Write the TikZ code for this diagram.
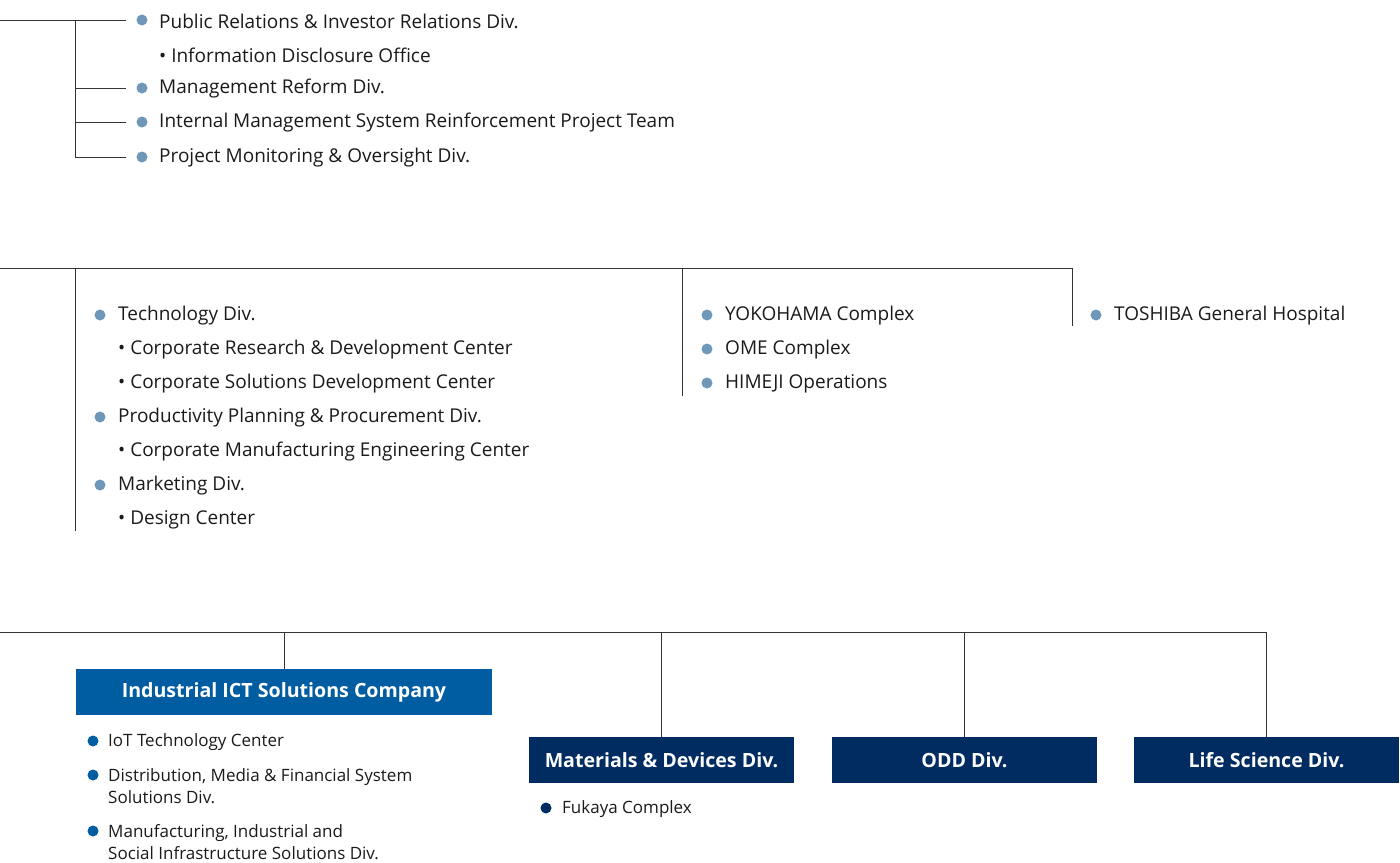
\documentclass[tikz,border=0pt]{standalone}
\usepackage{fontspec}
\setmainfont{Open Sans}
\definecolor{dotc}{HTML}{6F98B8}
\definecolor{ictblue}{HTML}{005DA2}
\definecolor{navy}{HTML}{002C62}
\definecolor{lnc}{HTML}{333333}
\definecolor{txt}{HTML}{1A1A1A}
\begin{document}
\begin{tikzpicture}[x=1pt,y=-1pt,
  conn/.style={draw=lnc,line width=1pt},
  item/.style={anchor=west,inner sep=0pt,text=txt,font=\fontsize{19}{22}\selectfont},
  smallitem/.style={anchor=west,inner sep=0pt,text=txt,align=left,font=\fontsize{17}{22}\selectfont},
  bdot/.style={circle,fill=dotc,minimum size=11pt,inner sep=0pt},
  ictdot/.style={circle,fill=ictblue,minimum size=11pt,inner sep=0pt},
  navydot/.style={circle,fill=navy,minimum size=11pt,inner sep=0pt},
  ictbox/.style={fill=ictblue,text=white,inner sep=0pt,font=\bfseries\fontsize{19.6}{22}\selectfont},
  navybox/.style={fill=navy,text=white,inner sep=0pt,font=\bfseries\fontsize{19.6}{22}\selectfont},
]
\useasboundingbox (0,0) rectangle (1400,862);

% ---------- top group ----------
\node[bdot] (a1d) at (142,20) {};
\node[item] (a1) at (159,21) {Public Relations \& Investor Relations Div.};
\node[item] (a1s) at (159,55) {\textbullet\ Information Disclosure Office};
\node[bdot] (a2d) at (142,88) {};
\node[item] (a2) at (159,89) {Management Reform Div.};
\node[bdot] (a3d) at (142,122) {};
\node[item] (a3) at (159,123) {Internal Management System Reinforcement Project Team};
\node[bdot] (a4d) at (142,157) {};
\node[item] (a4) at (159,158) {Project Monitoring \& Oversight Div.};

\coordinate (aL) at (0,20);
\coordinate (aV) at (75,20);
\draw[conn] (aL) -- ([xshift=-10pt]a1d.west);
\draw[conn] (aV) |- ([xshift=-10pt]a4d.west);
\draw[conn] (aV |- a2d) -- ([xshift=-10pt]a2d.west);
\draw[conn] (aV |- a3d) -- ([xshift=-10pt]a3d.west);

% ---------- middle group ----------
\coordinate (bL) at (0,268);
\coordinate (bR) at (1072,268);
\coordinate (bV1) at (75,268);
\coordinate (bV2) at (682,268);
\coordinate (bE1) at (75,531);
\coordinate (bE2) at (682,396);
\coordinate (bE3) at (1072,326);
\draw[conn] (bL) -- (bR);
\draw[conn] (bV1) -- (bE1);
\draw[conn] (bV2) -- (bE2);
\draw[conn] (bR) -- (bE3);

\node[bdot] (b1d) at (100,315) {};
\node[item] (b1) at (118,316) {Technology Div.};
\node[item] (b1s1) at (118,350) {\textbullet\ Corporate Research \& Development Center};
\node[item] (b1s2) at (118,384) {\textbullet\ Corporate Solutions Development Center};
\node[bdot] (b2d) at (100,417) {};
\node[item] (b2) at (118,418) {Productivity Planning \& Procurement Div.};
\node[item] (b2s1) at (118,452) {\textbullet\ Corporate Manufacturing Engineering Center};
\node[bdot] (b3d) at (100,485) {};
\node[item] (b3) at (118,486) {Marketing Div.};
\node[item] (b3s1) at (118,520) {\textbullet\ Design Center};

\node[bdot] (c1d) at (707,315) {};
\node[item] (c1) at (725,316) {YOKOHAMA Complex};
\node[bdot] (c2d) at (707,349) {};
\node[item] (c2) at (725,350) {OME Complex};
\node[bdot] (c3d) at (707,383) {};
\node[item] (c3) at (725,384) {HIMEJI Operations};

\node[bdot] (h1d) at (1096,315) {};
\node[item] (h1) at (1114,316) {TOSHIBA General Hospital};

% ---------- bottom group ----------
\node[ictbox,minimum width=416pt,minimum height=46pt] (ict) at (284,692) {Industrial ICT Solutions Company};
\node[navybox,minimum width=265pt,minimum height=46pt] (mat) at (661.5,760) {Materials \& Devices Div.};
\node[navybox,minimum width=265pt,minimum height=46pt] (odd) at (964.5,760) {ODD Div.};
\node[navybox,minimum width=265pt,minimum height=46pt] (life) at (1266.5,760) {Life Science Div.};

\coordinate (dL) at (0,632);
\coordinate (dR) at (1266,632);
\draw[conn] (dL) -- (dR);
\draw[conn] (ict.north |- dL) -- (ict.north);
\draw[conn] (mat.north |- dL) -- (mat.north);
\draw[conn] (odd.north |- dL) -- (odd.north);
\draw[conn] (dR) -- (life.north -| dR);

\node[ictdot] (e1d) at (93,741) {};
\node[smallitem] (e1) at (108,742) {IoT Technology Center};
\node[ictdot] (e2d) at (93,775) {};
\node[smallitem,anchor=north west] (e2) at (108,768) {Distribution, Media \& Financial System\\Solutions Div.};
\node[ictdot] (e3d) at (93,831) {};
\node[smallitem,anchor=north west] (e3) at (108,824) {Manufacturing, Industrial and\\Social Infrastructure Solutions Div.};

\node[navydot] (f1d) at (546,808) {};
\node[smallitem] (f1) at (562,809) {Fukaya Complex};
\end{tikzpicture}
\end{document}
